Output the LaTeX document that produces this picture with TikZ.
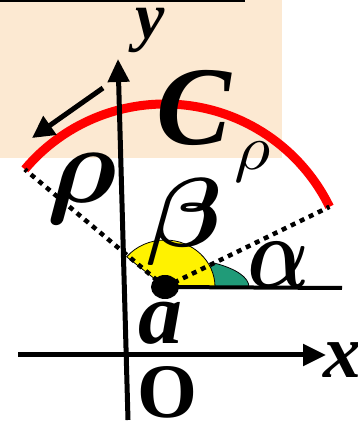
\documentclass[tikz,border=0pt]{standalone}
\usepackage{bm}
\usepackage{fontspec}
\setmainfont{Liberation Serif}
\usetikzlibrary{arrows.meta,calc}
\definecolor{beige}{RGB}{252,233,210}
\definecolor{tealgreen}{RGB}{32,155,120}
\tikzset{
  axis/.style={line width=5pt,-{Triangle[length=23pt,width=21pt]}},
  dotline/.style={line width=4.5pt,dash pattern=on 5pt off 5pt},
  lbl/.style={inner sep=0pt,font=\bfseries\itshape},
}
\newcommand{\fsz}[1]{\fontsize{#1}{#1}\selectfont}
\begin{document}
\begin{tikzpicture}[x=1pt,y=1pt]
\useasboundingbox (0,0) rectangle (357,426);
\fill[beige] (0,268) rectangle (282,426);
\draw[line width=3pt] (0,425) -- (245,425);
% key points
\coordinate (A) at (165,139);
\coordinate (L) at ($(A)+(140:183)$);
\coordinate (R) at ($(A)+(26:183)$);
\coordinate (H) at (342,138);
% green and yellow angle marks
\fill[tealgreen,draw=black,line width=0.8pt] (A) -- ($(A)+(49,24)$) arc[start angle=54.3,end angle=0,x radius=84,y radius=29.5] -- cycle;
\fill[yellow,draw=black,line width=0.8pt] (A) -- ++(50,0) arc[start angle=0,end angle=140,x radius=50,y radius=47] -- cycle;
% red arc
\draw[red,line width=9pt] (R) arc[start angle=26,end angle=140,radius=183];
% dotted radii
\draw[dotline] (A) -- (L);
\draw[dotline] (A) -- (R);
% horizontal line
\draw[line width=4pt] (A) -- (H);
% axes
\coordinate (xs) at (18,71); \coordinate (xe) at (326,71);
\coordinate (ys) at (128,6); \coordinate (ye) at (118,367);
\draw[axis] (xs) -- (xe);
\draw[axis] (ys) -- (ye);
% dot
\fill (A) ellipse[x radius=14,y radius=12];
% arrow along arc
\coordinate (p1) at (103,338); \coordinate (p2) at (32,288);
\draw[line width=5pt,-{Triangle[length=22pt,width=22pt]}] (p1) -- (p2);
% labels
\node[lbl] (ly) at (150,396) {\fsz{66}y};
\node[lbl] (lx) at (342,66) {\fsz{76}x};
\node[inner sep=0pt,font=\bfseries] (lo) at (167,34) {\fsz{77}O};
\node[lbl] (lc) at (194,318) {\fsz{112}C};
\node[inner sep=0pt] (lrho) at (82,237) {\scalebox{11.5}[11]{$\bm{\rho}$}};
\node[inner sep=0pt] (lrs) at (253,264) {\scalebox{7}[6.4]{$\rho$}};
\node[inner sep=0pt] (lb) at (185,204) {\scalebox{11}[9.8]{$\bm{\beta}$}};
\node[inner sep=0pt] (la) at (279,161) {\scalebox{8.2}[10.2]{$\bm{\alpha}$}};
\node[lbl] (lsa) at (160,103) {\fsz{88}a};
\end{tikzpicture}
\end{document}
